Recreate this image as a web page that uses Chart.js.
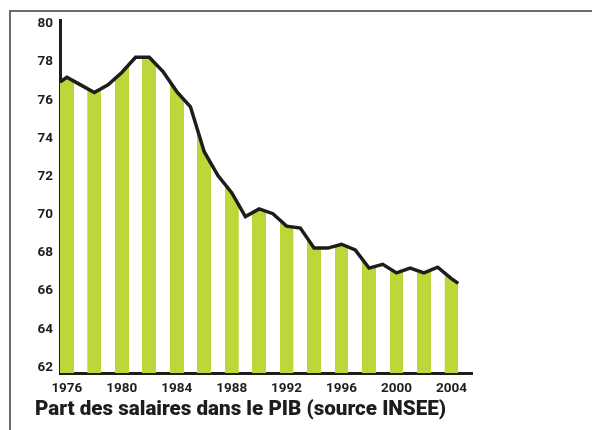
<!DOCTYPE html>
<html>
<head>
<meta charset="utf-8">
<script src="https://cdn.jsdelivr.net/npm/chart.js@4/dist/chart.umd.min.js"></script>
<style>
  html, body { margin: 0; padding: 0; background: #fff; }
  #wrap { position: relative; width: 592px; height: 430px; }
  #frame { position: absolute; left: 9px; top: 10px; right: -5px; bottom: -5px;
           border-top: 2px solid #6b6b6b; border-left: 2px solid #6b6b6b; }
  #chart { position: absolute; left: 0; top: 0; }
</style>
</head>
<body>
<div id="wrap">
  <div id="frame"></div>
  <canvas id="chart" width="592" height="430"></canvas>
</div>
<script>
// years where the line has a point (it starts at the axis and stops at the last stripe edge)
var years = [1975.5, 1976, 1977, 1978, 1979, 1980, 1981, 1982, 1983, 1984, 1985,
  1986, 1987, 1988, 1989, 1990, 1991, 1992, 1993, 1994, 1995, 1996, 1997,
  1998, 1999, 2000, 2001, 2002, 2003, 2004, 2004.5];
// part des salaires dans le PIB, %
var salaires = [76.95, 77.2, 76.8, 76.4, 76.8, 77.45, 78.25, 78.25, 77.5, 76.45, 75.65,
  73.3, 72.05, 71.15, 69.9, 70.3, 70.05, 69.4, 69.3, 68.25, 68.25, 68.45, 68.15,
  67.2, 67.4, 66.95, 67.2, 66.95, 67.25, 66.65, 66.4];

var xTicks = [1976, 1980, 1984, 1988, 1992, 1996, 2000, 2004];
var yTicks = [62, 64, 66, 68, 70, 72, 74, 76, 78, 80];

var GREEN = '#bfd63a';
var INK = '#1f1d1c';

// green/white stripes, one year wide, starting on the first year
function stripes(context) {
  var chart = context.chart;
  var x = chart.scales && chart.scales.x;
  if (!chart.chartArea || !x) return GREEN;
  var x0 = x.getPixelForValue(xTicks[0] - 0.5);
  var step = x.getPixelForValue(xTicks[0] + 1.5) - x0;
  var c = document.createElement('canvas');
  c.width = 200;
  c.height = 4;
  var g = c.getContext('2d');
  g.fillStyle = GREEN;
  g.fillRect(0, 0, 100, 4);
  var p = chart.ctx.createPattern(c, 'repeat');
  p.setTransform(new DOMMatrix([step / 200, 0, 0, 1, x0, 0]));
  return p;
}

var tickFont = { family: 'Roboto, sans-serif', size: 13.5, weight: 'bold' };

var ctx = document.getElementById('chart').getContext('2d');

var myChart = new Chart(ctx, {
  type: 'line',
  data: {
    datasets: [
      {
        label: 'Part des salaires',
        data: years.map(function (y, i) { return { x: y, y: salaires[i] }; }),
        borderColor: INK,
        borderWidth: 3.5,
        backgroundColor: stripes,
        fill: 'start',
        tension: 0,
        pointRadius: 0,
        clip: false,
      },
    ],
  },
  options: {
    responsive: false,
    animation: false,
    layout: { padding: { left: 35, right: 120, top: 20, bottom: 8 } },
    plugins: {
      legend: { display: false },
      tooltip: { enabled: false },
      title: {
        display: true,
        text: 'Part des salaires dans le PIB (source INSEE)',
        position: 'bottom',
        align: 'start',
        color: INK,
        padding: { top: -6, bottom: 0 },
        font: { family: 'Roboto, sans-serif', size: 20.6, weight: 900 },
      },
    },
    scales: {
      x: {
        type: 'linear',
        min: 1975.5,
        max: 2005.5,
        grid: { display: false, drawTicks: false },
        border: { display: true, color: INK, width: 3 },
        afterBuildTicks: function (scale) {
          scale.ticks = xTicks.map(function (v) { return { value: v }; });
        },
        ticks: {
          padding: 7,
          color: INK,
          maxRotation: 0,
          autoSkip: false,
          font: tickFont,
          callback: function (v) { return String(v); },
        },
      },
      y: {
        min: 61.7,
        max: 80.2,
        grid: { display: false, drawTicks: false },
        border: { display: true, color: INK, width: 3 },
        afterBuildTicks: function (scale) {
          scale.ticks = yTicks.map(function (v) { return { value: v }; });
        },
        afterFit: function (scale) { scale.width = 25; },
        ticks: {
          padding: 7,
          color: INK,
          font: tickFont,
          callback: function (v) { return String(v); },
        },
      },
    },
  },
});
</script>
</body>
</html>
